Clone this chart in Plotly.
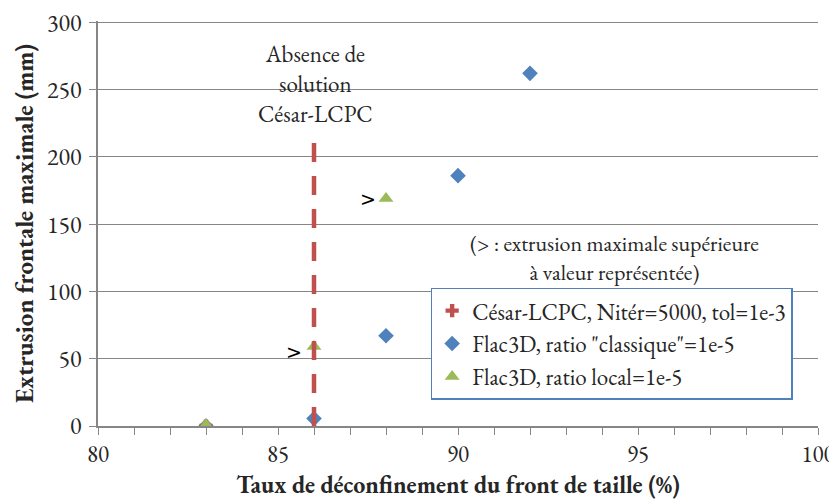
import plotly.graph_objects as go

cesar_x = [83]
cesar_y = [0]
flac_classique_x = [83, 86, 88, 90, 92]
flac_classique_y = [0, 5.5, 67, 186, 262]
flac_local_x = [83, 86, 88]
flac_local_y = [1, 59, 169]
limit_x = [86, 86]
limit_y = [0, 212]
y_ticks = [0, 50, 100, 150, 200, 250, 300]

serif = "EB Garamond"
fig = go.Figure()

fig.add_trace(go.Scatter(x=flac_classique_x, y=flac_classique_y, mode="markers",
                         name='Flac3D, ratio "classique"=1e-5', legendrank=2,
                         marker=dict(symbol="diamond", size=12, color="#4F81BD")))
fig.add_trace(go.Scatter(x=cesar_x, y=cesar_y, mode="markers",
                         name="César-LCPC, Nitér=5000, tol=1e-3", legendrank=1,
                         marker=dict(symbol="cross", size=11, color="#C0504D")))
fig.add_trace(go.Scatter(x=flac_local_x, y=flac_local_y, mode="markers",
                         name="Flac3D, ratio local=1e-5", legendrank=3,
                         marker=dict(symbol="triangle-up", size=13, color="#9BBB59")))
fig.add_trace(go.Scatter(x=limit_x, y=limit_y, mode="lines", showlegend=False,
                         line=dict(color="#C0504D", width=4.5, dash="19px,14px"), hoverinfo="skip"))

fig.add_annotation(x=86.03, y=254, text="Absence de<br>solution<br>César-LCPC", showarrow=False,
                   font=dict(family=serif, size=23, color="#262626"), yanchor="middle")
fig.add_annotation(x=94.36, y=125, text="(> : extrusion maximale supérieure<br>à valeur représentée)",
                   showarrow=False, font=dict(family=serif, size=22, color="#262626"), yanchor="middle")
fig.add_annotation(x=87.5, y=169, text=">", showarrow=False,
                   font=dict(family="DejaVu Sans", size=19, color="black"))
fig.add_annotation(x=85.45, y=55, text=">", showarrow=False,
                   font=dict(family="DejaVu Sans", size=19, color="black"))

fig.update_layout(
    width=829, height=495,
    margin=dict(l=90, r=19, t=13, b=77),
    plot_bgcolor="white", paper_bgcolor="white",
    font=dict(family=serif, size=22, color="#262626"),
    legend=dict(x=0.462, y=0.3416, xanchor="left", yanchor="top",
                bordercolor="#4F81BD", borderwidth=1.5, bgcolor="white",
                font=dict(family=serif, size=23, color="#262626"),
                tracegroupgap=0, itemwidth=30),
    showlegend=True,
)
fig.update_xaxes(range=[80, 100], dtick=5, tick0=80, showgrid=False, automargin=False,
                 showline=True, linecolor="#868686", linewidth=1.5,
                 ticks="outside", ticklen=7, tickcolor="#868686",
                 minor=dict(dtick=1, ticks="outside", ticklen=7, tickcolor="#868686", showgrid=False),
                 tickfont=dict(family=serif, size=23), ticklabelstandoff=0,
                 ticklabeloverflow="allow",
                 title=dict(text="<b>Taux de déconfinement du front de taille (%)</b>",
                            font=dict(family=serif, size=24, color="#262626"), standoff=7),
                 zeroline=False)
fig.update_yaxes(range=[0, 300.9], tickmode="array", tickvals=y_ticks, showgrid=True,
                 automargin=False, ticklabeloverflow="allow",
                 gridcolor="#868686", gridwidth=1.2,
                 showline=True, linecolor="#868686", linewidth=1.5,
                 ticks="outside", ticklen=7, tickcolor="#868686",
                 tickfont=dict(family=serif, size=24), ticklabelstandoff=3,
                 title=dict(text="<b>Extrusion frontale maximale (mm)</b>",
                            font=dict(family=serif, size=25, color="#262626"), standoff=8),
                 zeroline=False)

fig.write_html("out.html")
